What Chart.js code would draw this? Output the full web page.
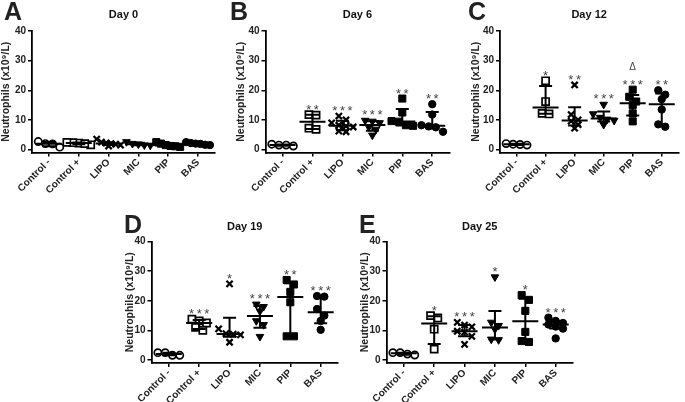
<!DOCTYPE html>
<html>
<head>
<meta charset="utf-8">
<script src="https://cdn.jsdelivr.net/npm/chart.js@4"></script>
<style>
  body { margin: 0; background: #fff; }
  #wrap { position: relative; width: 685px; height: 402px; overflow: hidden; }
  canvas { position: absolute; }
</style>
</head>
<body>
<div id="wrap">
  <canvas id="pA"></canvas>
  <canvas id="pB"></canvas>
  <canvas id="pC"></canvas>
  <canvas id="pD"></canvas>
  <canvas id="pE"></canvas>
</div>
<script>
// groups on the x axis
const categories = ['Control -', 'Control +', 'LIPO', 'MIC', 'PIP', 'BAS'];
const yTicks = [0, 10, 20, 30, 40];

// neutrophils (x10^9/L), one list per group
const day0Values = [
    [2.0, 0.8, 1.9, 2.7],
    [2.2, 1.6, 2.0, 2.3, 2.4],
    [1.5, 2.0, 2.5, 3.5, 1.2, 1.8, 2.2],
    [1.4, 2.0, 2.6, 1.8, 1.5],
    [0.9, 1.2, 1.5, 2.0, 2.5, 1.1],
    [1.5, 2.0, 2.5, 2.2, 1.6, 1.9]
];
const day6Values = [
    [1.5, 1.2, 1.5, 1.8],
    [11.8, 11.6, 7.2, 6.8],
    [11.3, 10.0, 9.0, 8.2, 7.9, 7.6, 6.2, 6.0],
    [9.8, 9.5, 9.0, 7.6, 6.8, 4.8],
    [17.2, 12.5, 9.6, 9.4, 8.2, 8.0],
    [15.3, 11.8, 8.2, 7.8, 7.5, 6.0]
];
const day12Values = [
    [1.8, 1.5, 1.7, 2.0],
    [23.2, 16.2, 12.2, 12.0],
    [21.8, 11.8, 10.0, 9.6, 8.4, 7.2],
    [15.2, 12.0, 10.8, 10.2, 9.8, 8.4],
    [20.2, 17.8, 16.2, 15.0, 12.2, 9.5],
    [20.0, 18.5, 17.0, 13.5, 8.5, 7.7]
];
const day19Values = [
    [2.5, 1.6, 1.6, 2.5],
    [13.8, 13.2, 12.5, 11.0, 10.0],
    [25.7, 10.5, 8.9, 8.7, 8.5, 6.0],
    [18.8, 18.0, 16.5, 13.2, 11.9, 7.9],
    [27.0, 25.5, 23.0, 19.5, 8.0, 8.0],
    [21.6, 21.4, 17.2, 15.0, 13.2, 10.2]
];
const day25Values = [
    [2.5, 1.7, 2.0, 2.5],
    [15.0, 14.2, 10.4, 3.7],
    [12.7, 11.8, 11.2, 9.7, 9.4, 8.0, 5.3],
    [28.0, 12.7, 11.6, 10.4, 7.0, 6.8],
    [21.9, 20.3, 16.6, 9.5, 6.4, 6.1],
    [14.3, 13.2, 12.5, 12.0, 11.3, 10.6, 7.3]
];

// significance marks above each group
const day0Marks = ['', '', '', '', '', ''];
const day6Marks = ['', '**', '***', '***', '**', '**'];
const day12Marks = ['', '*', '**', '***', 'Δ\n***', '**'];
const day19Marks = ['', '***', '*', '***', '**', '***'];
const day25Marks = ['', '*', '***', '*', '*', '***'];

const FONT = "'Liberation Sans', Arial, sans-serif";

// marker look per group (GraphPad style)
const markerStyles = [
    { pointStyle: 'circle', radius: 3.6, fill: '#fff', border: 1.7, rotation: 0 },
    { pointStyle: 'rect', radius: 5, fill: '#fff', border: 1.7, rotation: 0 },
    { pointStyle: 'crossRot', radius: 4.4, fill: '#000', border: 2.3, rotation: 0 },
    { pointStyle: 'triangle', radius: 4.4, fill: '#000', border: 1, rotation: 180 },
    { pointStyle: 'rect', radius: 5, fill: '#000', border: 1, rotation: 0 },
    { pointStyle: 'circle', radius: 3.7, fill: '#000', border: 1, rotation: 0 }
];

// GraphPad style percentile, position p*(n+1)
function quantile(sorted, p) {
    const n = sorted.length;
    const pos = p * (n + 1);
    if (pos <= 1) return sorted[0];
    if (pos >= n) return sorted[n - 1];
    const lo = Math.floor(pos);
    return sorted[lo - 1] + (pos - lo) * (sorted[lo] - sorted[lo - 1]);
}

// spread overlapping points sideways in rows, like a scatter dot plot
function spread(values) {
    const idx = values.map((v, i) => i).sort((a, b) => values[b] - values[a]);
    const offsets = new Array(values.length).fill(0);
    let row = [];
    const flush = () => {
        const k = row.length;
        const step = k > 1 ? Math.min(0.24, 0.8 / (k - 1)) : 0;
        row.forEach((i, j) => { offsets[i] = (j - (k - 1) / 2) * step; });
        row = [];
    };
    idx.forEach(i => {
        if (row.length && values[row[0]] - values[i] > 2.2) flush();
        row.push(i);
    });
    flush();
    return offsets;
}

const groupMarks = {
    id: 'groupMarks',
    afterDatasetsDraw(chart, args, opts) {
        const ctx = chart.ctx;
        const xs = chart.scales.x;
        const ys = chart.scales.y;
        ctx.save();
        ctx.strokeStyle = '#000';
        ctx.lineWidth = 2;
        opts.values.forEach((vals, i) => {
            const s = vals.slice().sort((a, b) => a - b);
            const cx = xs.getPixelForValue(i);
            const pm = ys.getPixelForValue(quantile(s, 0.5));
            const p1 = ys.getPixelForValue(quantile(s, 0.25));
            const p3 = ys.getPixelForValue(quantile(s, 0.75));
            ctx.beginPath();
            ctx.moveTo(cx - 13, pm); ctx.lineTo(cx + 13, pm);
            ctx.moveTo(cx, p1); ctx.lineTo(cx, p3);
            ctx.moveTo(cx - 6.5, p1); ctx.lineTo(cx + 6.5, p1);
            ctx.moveTo(cx - 6.5, p3); ctx.lineTo(cx + 6.5, p3);
            ctx.stroke();

            const mark = opts.marks[i];
            if (mark) {
                const top = Math.min(ys.getPixelForValue(s[s.length - 1]), p3);
                const lines = mark.split('\n').reverse();
                ctx.fillStyle = '#444';
                ctx.textAlign = 'center';
                ctx.textBaseline = 'alphabetic';
                lines.forEach((t, j) => {
                    if (t.startsWith('*')) {
                        ctx.font = '13px ' + FONT;
                        ctx.fillText(t.split('').join('\u2009'), cx, top - 1 - j * 10);
                    } else {
                        ctx.font = '10px ' + FONT;
                        ctx.fillText(t, cx, top - 12 - j * 8);
                    }
                });
            }
        });
        ctx.restore();
    },
    afterDraw(chart, args, opts) {
        const ctx = chart.ctx;
        const area = chart.chartArea;
        ctx.save();
        ctx.fillStyle = '#111';
        ctx.textAlign = 'center';
        ctx.font = 'bold 11px ' + FONT;
        ctx.fillText(opts.title, (area.left + area.right) / 2, opts.titleY);
        ctx.textAlign = 'left';
        ctx.fillStyle = '#222';
        ctx.font = 'bold 25px ' + FONT;
        ctx.fillText(opts.letter, opts.letterX, opts.letterY);
        ctx.restore();
    }
};

const panels = [
    { id: 'pA', left: 0, top: 0, w: 228, h: 205, axisX: 32, axisTop: 31, axisRight: 215, axisBottom: 152.5,
      titlePad: 0, titleY: 18, letterX: 4, letterY: 20, letter: 'A', title: 'Day 0', values: day0Values, marks: day0Marks },
    { id: 'pB', left: 228, top: 0, w: 228, h: 205, axisX: 265.5, axisTop: 31, axisRight: 452, axisBottom: 152.5,
      titlePad: 7, titleY: 18, letterX: 2, letterY: 20, letter: 'B', title: 'Day 6', values: day6Values, marks: day6Marks },
    { id: 'pC', left: 456, top: 0, w: 229, h: 205, axisX: 500, axisTop: 31, axisRight: 683, axisBottom: 152.5,
      titlePad: 14, titleY: 18, letterX: 12, letterY: 20, letter: 'C', title: 'Day 12', values: day12Values, marks: day12Marks },
    { id: 'pD', left: 110, top: 200, w: 235, h: 202, axisX: 151.5, axisTop: 241.5, axisRight: 338, axisBottom: 363,
      titlePad: 14, titleY: 30, letterX: 14, letterY: 33, letter: 'D', title: 'Day 19', values: day19Values, marks: day19Marks },
    { id: 'pE', left: 345, top: 200, w: 235, h: 202, axisX: 386.5, axisTop: 241.5, axisRight: 573, axisBottom: 363,
      titlePad: 14, titleY: 30, letterX: 14, letterY: 33, letter: 'E', title: 'Day 25', values: day25Values, marks: day25Marks }
];

function makePanel(p) {
    const canvas = document.getElementById(p.id);
    canvas.width = p.w;
    canvas.height = p.h;
    canvas.style.left = p.left + 'px';
    canvas.style.top = p.top + 'px';

    const datasets = p.values.map((vals, i) => {
        const st = markerStyles[i];
        const offs = spread(vals);
        return {
            label: categories[i],
            data: vals.map((v, j) => ({ x: i + offs[j], y: v })),
            pointStyle: st.pointStyle,
            pointRadius: st.radius,
            pointRotation: st.rotation,
            pointBackgroundColor: st.fill,
            pointBorderColor: '#000',
            pointBorderWidth: st.border
        };
    });

    const yWidth = p.axisX - p.left;
    const xHeight = p.top + p.h - p.axisBottom;

    new Chart(canvas.getContext('2d'), {
        type: 'scatter',
        data: { datasets: datasets },
        options: {
            responsive: false,
            animation: false,
            devicePixelRatio: 1,
            layout: { padding: { left: 0, top: p.axisTop - p.top, right: p.left + p.w - p.axisRight, bottom: 0 } },
            scales: {
                x: {
                    type: 'linear',
                    min: -0.57,
                    max: 5.57,
                    afterBuildTicks: axis => { axis.ticks = categories.map((c, i) => ({ value: i })); },
                    afterFit: axis => { axis.height = xHeight; },
                    grid: { display: true, drawOnChartArea: false, drawTicks: true, tickLength: 4, color: '#000', lineWidth: 1.5 },
                    border: { display: true, color: '#000', width: 1.8 },
                    ticks: {
                        autoSkip: false,
                        minRotation: 45,
                        maxRotation: 45,
                        padding: 0,
                        color: '#222',
                        font: { family: FONT, size: 10, weight: 'bold' },
                        callback: v => categories[v]
                    }
                },
                y: {
                    min: -1,
                    max: 40,
                    afterBuildTicks: axis => { axis.ticks = yTicks.map(v => ({ value: v })); },
                    afterFit: axis => { axis.width = yWidth; },
                    grid: { display: true, drawOnChartArea: false, drawTicks: true, tickLength: 4, color: '#000', lineWidth: 1.5 },
                    border: { display: true, color: '#000', width: 1.8 },
                    ticks: {
                        padding: 2,
                        color: '#222',
                        font: { family: FONT, size: 10, weight: 'bold' }
                    },
                    title: {
                        display: true,
                        text: 'Neutrophils (x10⁹/L)',
                        color: '#222',
                        padding: { top: p.titlePad, bottom: 0 },
                        font: { family: FONT, size: 10.5, weight: 'bold' }
                    }
                }
            },
            plugins: {
                legend: { display: false },
                tooltip: { enabled: false },
                groupMarks: {
                    values: p.values,
                    marks: p.marks,
                    title: p.title,
                    titleY: p.titleY,
                    letter: p.letter,
                    letterX: p.letterX,
                    letterY: p.letterY
                }
            }
        },
        plugins: [groupMarks]
    });
}

panels.forEach(makePanel);
</script>
</body>
</html>
